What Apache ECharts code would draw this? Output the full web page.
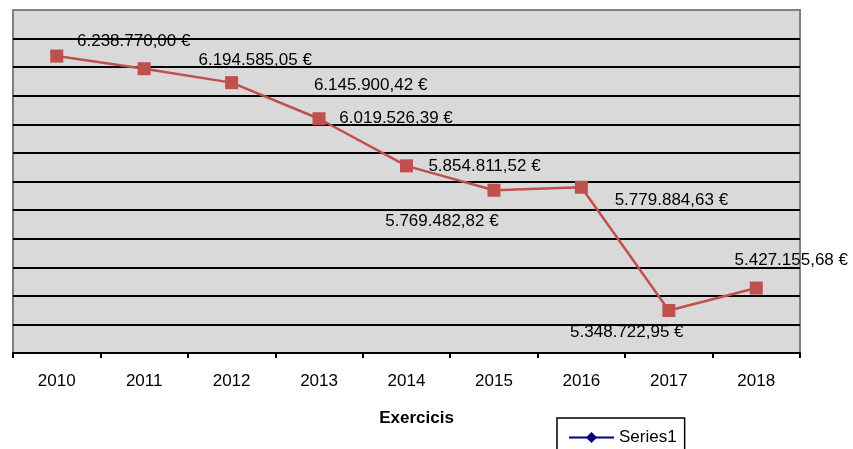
<!DOCTYPE html>
<html>
<head>
<meta charset="utf-8">
<script src="https://cdn.jsdelivr.net/npm/echarts@6/dist/echarts.min.js"></script>
<style>html,body{margin:0;padding:0;background:#fff}#c{width:853px;height:449px}</style>
</head>
<body>
<div id="c"></div>
<script>
const categories = ['2010','2011','2012','2013','2014','2015','2016','2017','2018'];
const values = [6238770.00, 6194585.05, 6145900.42, 6019526.39, 5854811.52, 5769482.82, 5779884.63, 5348722.95, 5427155.68];
const legendName = 'Series1';
const axisTitle = 'Exercicis';
const yMin = 5200000, yMax = 6400000, yStep = 100000;

// label placement (style, not data)
const labelOffsets = [[77,-15],[111,-8],[139,3],[77,0],[78,0],[-52,31],[90,13],[-42,22],[35,-28]];

function fmt(v){
  const parts = v.toFixed(2).split('.');
  const int = parts[0].replace(/\B(?=(\d{3})+(?!\d))/g, '.');
  return int + ',' + parts[1] + ' €';
}

const chart = echarts.init(document.getElementById('c'), null, {renderer:'canvas'});
const font = 'Liberation Sans, Arial, Helvetica, sans-serif';
chart.setOption({
  animation:false,
  backgroundColor:'#ffffff',
  textStyle:{fontFamily:font},
  grid:{left:13,right:53,top:10,bottom:96,show:true,backgroundColor:'#d9d9d9',borderColor:'#808080',borderWidth:2,containLabel:false},
  legend:{
    data:[legendName], left:557, top:418, orient:'horizontal',
    borderColor:'#000', borderWidth:1.5, padding:[11,8,10,11],
    itemWidth:45, itemHeight:14, itemGap:5,
    textStyle:{fontSize:17,color:'#000',fontFamily:font}
  },
  xAxis:{
    type:'category', data:categories, boundaryGap:true,
    name:axisTitle, nameLocation:'middle', nameGap:57,
    nameTextStyle:{fontSize:17,fontWeight:'bold',color:'#000',padding:[0,0,0,20]},
    axisLine:{show:true,lineStyle:{color:'#000',width:2}},
    axisTick:{show:true,alignWithLabel:false,length:5,lineStyle:{color:'#000',width:2}},
    axisLabel:{fontSize:17,color:'#000',margin:20},
    splitLine:{show:false}
  },
  yAxis:{
    type:'value', min:yMin, max:yMax, interval:yStep,
    axisLine:{show:false}, axisTick:{show:false}, axisLabel:{show:false},
    splitLine:{show:true,showMinLine:false,showMaxLine:false,lineStyle:{color:'#000',width:2}}
  },
  series:[
    {
      name:'Valor', type:'line',
      data: values.map((v,i)=>({value:v,label:{offset:labelOffsets[i]}})),
      symbol:'rect', symbolSize:13,
      lineStyle:{color:'#c0504d',width:2.5},
      itemStyle:{color:'#c0504d'},
      label:{show:true,position:'inside',align:'center',verticalAlign:'middle',fontSize:17,color:'#000',fontFamily:font,
        formatter:p=>fmt(p.value)},
      z:3
    },
    {
      name:legendName, type:'line', data:[],
      symbol:'diamond', symbolSize:14,
      lineStyle:{color:'#000080',width:3},
      itemStyle:{color:'#000080'}
    }
  ]
});
</script>
</body>
</html>
